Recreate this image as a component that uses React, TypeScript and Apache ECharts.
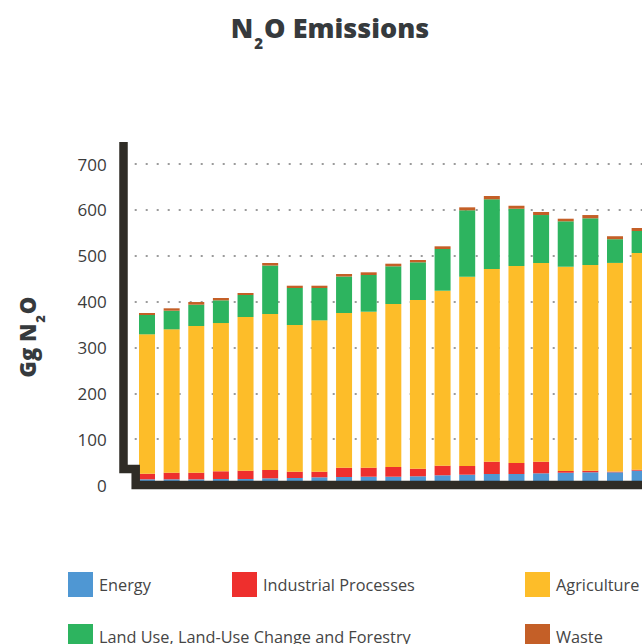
import React, { useEffect, useRef } from "react";
import * as echarts from "echarts";

const years = ["1990","1991","1992","1993","1994","1995","1996","1997","1998","1999","2000","2001","2002","2003","2004","2005","2006","2007","2008","2009","2010"];
const energy = [12.4, 12.4, 12.4, 13.1, 13.1, 14.6, 15.3, 16.8, 17.4, 18.1, 18.1, 19.0, 21.2, 22.5, 24.0, 24.0, 25.5, 26.8, 27.7, 27.7, 31.2];
const industrial = [12.2, 14.4, 14.4, 16.8, 18.1, 18.1, 13.7, 12.2, 20.3, 19.6, 21.2, 16.5, 20.9, 18.9, 26.8, 24.0, 25.3, 3.7, 3.5, 1.5, 2.2];
const agriculture = [304.0, 312.7, 319.9, 323.3, 335.1, 340.2, 319.9, 330.1, 337.4, 340.2, 355.4, 367.9, 381.6, 412.8, 420.2, 429.5, 433.3, 445.5, 448.5, 455.1, 472.5];
const lulucf = [42.1, 40.6, 46.5, 49.5, 48.0, 105.7, 80.7, 70.5, 79.5, 80.0, 82.2, 82.2, 90.9, 144.8, 152.0, 125.0, 104.6, 99.0, 101.9, 51.7, 48.0];
const waste = [4.4, 5.2, 5.8, 5.1, 4.4, 5.5, 5.0, 5.0, 5.5, 5.9, 5.7, 5.0, 5.9, 6.5, 7.2, 6.5, 6.6, 5.7, 7.1, 6.5, 6.5];
const yTicks = [0, 100, 200, 300, 400, 500, 600, 700];

const seriesNames = ["Energy", "Industrial Processes", "Agriculture", "Land Use, Land-Use Change and Forestry", "Waste"];
const seriesData = [energy, industrial, agriculture, lulucf, waste];
const colors = ["#4f97d3", "#ee2f2d", "#fdbd29", "#2db45f", "#c45f27"];

const CHART_W = 700;
const CHART_H = 644;
const GRID_LEFT = 134.7;
const GRID_TOP = 164;
const GRID_BOTTOM = 159;
const BAND = 24.63;
const Y0 = CHART_H - GRID_BOTTOM;
const FONT = "'Open Sans', 'Noto Sans', sans-serif";

export default function App() {
  const ref = useRef<HTMLDivElement>(null);
  useEffect(() => {
    document.body.style.margin = "0";
    const chart = echarts.init(ref.current!, null, { renderer: "svg" });
    const legendPos = [
      [68, 572], [232, 572], [525, 572], [68, 624], [525, 624],
    ];
    chart.setOption({
      animation: false,
      color: colors,
      grid: {
        left: GRID_LEFT,
        top: GRID_TOP,
        bottom: GRID_BOTTOM,
        width: BAND * years.length,
      },
      xAxis: {
        type: "category",
        data: years,
        axisLine: { show: false },
        axisTick: { show: false },
        axisLabel: { show: false },
      },
      yAxis: {
        type: "value",
        min: yTicks[0],
        max: yTicks[yTicks.length - 1],
        interval: 100,
        axisLine: { show: false },
        axisTick: { show: false },
        axisLabel: { margin: 28, fontSize: 17, color: "#3b3b3b", fontFamily: FONT },
        splitLine: {
          lineStyle: { type: [2, 9], width: 2, color: "#9b9b9b" },
        },
      },
      legend: seriesNames.map((n, i) => ({
        data: [n],
        left: legendPos[i][0],
        top: legendPos[i][1],
        padding: 0,
        itemWidth: 25,
        itemHeight: 25,
        icon: "rect",
        selectedMode: false,
        textStyle: { fontSize: 16.3, color: "#454545", fontFamily: FONT, padding: [0, 0, 0, 1] },
      })),
      series: seriesNames.map((n, i) => ({
        name: n,
        type: "bar",
        stack: "total",
        barWidth: 16,
        data: seriesData[i],
        itemStyle: { color: colors[i] },
      })),
      graphic: [
        {
          type: "polyline",
          z: 100,
          shape: {
            points: [
              [GRID_LEFT - 11.2, GRID_TOP - 22],
              [GRID_LEFT - 11.2, Y0 - 16],
              [GRID_LEFT + 1, Y0 - 16],
              [GRID_LEFT + 1, Y0],
              [CHART_W, Y0],
            ],
          },
          style: { stroke: "#2f2c26", lineWidth: 8.5, fill: null, lineJoin: "miter" },
        },
        {
          type: "text",
          z: 100,
          x: 330,
          y: 14,
          style: {
            text: "{a|N}{s|2}{a|O Emissions}",
            align: "center",
            verticalAlign: "top",
            rich: {
              a: { fontSize: 27, fontWeight: 800, fontFamily: FONT, fill: "#363a3d", verticalAlign: "top" },
              s: { fontSize: 15, fontWeight: 800, fontFamily: FONT, fill: "#363a3d", verticalAlign: "top", padding: [21, 1, 0, 1] },
            },
          },
        },
        {
          type: "text",
          z: 100,
          x: 31,
          y: 337,
          rotation: Math.PI / 2,
          style: {
            text: "{a|Gg N}{s|2}{a|O}",
            align: "center",
            verticalAlign: "middle",
            rich: {
              a: { fontSize: 22, fontWeight: 800, fontFamily: FONT, fill: "#363a3d", verticalAlign: "top" },
              s: { fontSize: 13, fontWeight: 800, fontFamily: FONT, fill: "#363a3d", verticalAlign: "top", padding: [17, 1, 0, 1] },
            },
          },
        },
      ],
    });
    return () => chart.dispose();
  }, []);
  return (
    <div style={{ width: 642, height: 644, overflow: "hidden", position: "relative" }}>
      <div ref={ref} style={{ width: CHART_W, height: CHART_H }} />
    </div>
  );
}
